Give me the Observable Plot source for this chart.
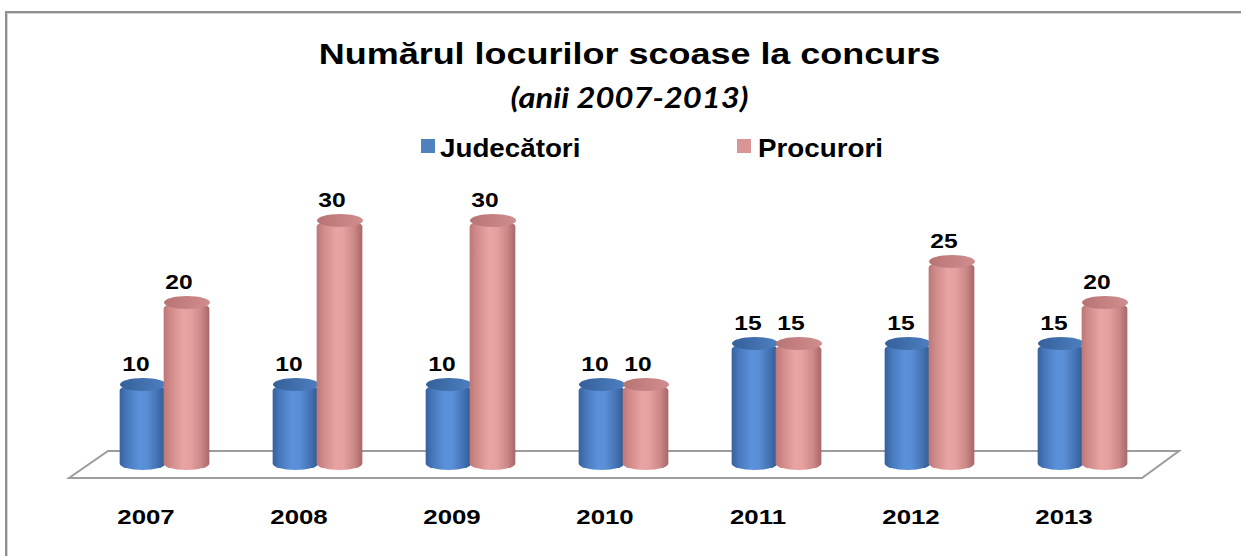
<!DOCTYPE html>
<html>
<head>
<meta charset="utf-8">
<script src="https://cdn.jsdelivr.net/npm/d3@7"></script>
<script src="https://cdn.jsdelivr.net/npm/@observablehq/plot@0.6"></script>
<style>
  html, body { margin: 0; padding: 0; background: #fff; }
  #wrap { position: relative; width: 1241px; height: 556px; overflow: hidden; background: #fff; }
  #border { position: absolute; left: 5px; top: 11px; width: 1400px; height: 800px;
            border-left: 2px solid #8e8e8e; border-top: 2px solid #8e8e8e;
            box-shadow: inset 1px 1px 0 #d4d4d4; }
  #chart { position: absolute; left: 0; top: 0; }
  .t { position: absolute; white-space: nowrap; line-height: 1; color: #000; }
  #title { font: bold 29px "Liberation Sans", Arial, sans-serif; left: 0; width: 1241px; text-align: center;
           transform: translateX(9px) scaleX(1.24); transform-origin: 620.5px 0; top: 38px; }
  #subtitle { font: italic bold 28px Lato, sans-serif; left: 0; width: 1241px; text-align: center;
              transform: translateX(9px) scaleX(1.17); transform-origin: 620.5px 0; top: 80px; }
  .sw { position: absolute; width: 14px; height: 14px; top: 139px; }
  .lg { font: bold 25px "Liberation Sans", Arial, sans-serif; top: 134px; transform: scaleX(1.11); transform-origin: 0 0; }
</style>
</head>
<body>
<div id="wrap">
  <div id="border"></div>
  <div id="chart"></div>
  <div id="title" class="t"></div>
  <div id="subtitle" class="t"></div>
  <div id="sw0" class="sw" style="left:421px"></div>
  <div id="lg0" class="t lg" style="left:440px"></div>
  <div id="sw1" class="sw" style="left:737px"></div>
  <div id="lg1" class="t lg" style="left:758px"></div>
</div>
<script>
// ---- data ----
const titleText = "Numărul locurilor scoase la concurs";
const subtitleText = "(anii 2007-2013)";
const years = ["2007", "2008", "2009", "2010", "2011", "2012", "2013"];
const seriesNames = ["Judecători", "Procurori"];
const judecatori = [10, 10, 10, 10, 15, 15, 15];
const procurori = [20, 30, 30, 10, 15, 25, 20];
const seriesColors = ["#4f81bd", "#d99594"];

const blueRows = years.map((y, i) => ({year: y, value: judecatori[i]}));
const pinkRows = years.map((y, i) => ({year: y, value: procurori[i]}));

// ---- html text ----
document.getElementById("title").textContent = titleText;
document.getElementById("subtitle").textContent = subtitleText;
document.getElementById("lg0").textContent = seriesNames[0];
document.getElementById("lg1").textContent = seriesNames[1];
document.getElementById("sw0").style.background = seriesColors[0];
document.getElementById("sw1").style.background = seriesColors[1];

// elliptical cap symbol
const capSymbol = {
  draw(ctx) {
    const a = 23, b = 6.5, k = 0.5523;
    ctx.moveTo(-a, 0);
    ctx.bezierCurveTo(-a, -k * b, -k * a, -b, 0, -b);
    ctx.bezierCurveTo(k * a, -b, a, -k * b, a, 0);
    ctx.bezierCurveTo(a, k * b, k * a, b, 0, b);
    ctx.bezierCurveTo(-k * a, b, -a, k * b, -a, 0);
    ctx.closePath();
  }
};

// floor drawn from the scales
function floor(index, scales, values, dimensions) {
  const x = scales.x, y = scales.y;
  let bw = (typeof x.bandwidth === "function") ? x.bandwidth() : 0;
  const x0 = x(years[0]);
  const x1 = x(years[years.length - 1]) + bw;
  const y0 = y(0);
  const p = d3.path();
  p.moveTo(x0 - 19, y0 + 12);
  p.lineTo(x1 - 17, y0 + 12);
  p.lineTo(x1 + 20, y0 - 15);
  p.lineTo(x0 + 20, y0 - 15);
  p.closePath();
  return d3.create("svg:path").attr("d", p.toString())
    .attr("fill", "#ffffff").attr("stroke", "#9c9c9c").attr("stroke-width", 2).node();
}

const half = 153.3 / 2;
const plot = Plot.plot({
  width: 1241,
  height: 556,
  marginTop: 220,
  marginBottom: 90,
  marginLeft: 0,
  marginRight: 0,
  style: {background: "transparent", overflow: "visible"},
  x: {type: "band", domain: years, range: [164 - half, 164 + 6 * 153.3 + half], padding: 0, axis: null},
  y: {domain: [0, 30], axis: null},
  marks: [
    floor,
    Plot.barY(blueRows, {x: "year", y1: 0, y2: "value", fill: "url(#gBlue)", rx: 23, ry: 6.5,
      insetLeft: half - 45, insetRight: half - 1, insetBottom: -4}),
    Plot.dot(blueRows, {x: "year", y: "value", dx: -22, symbol: capSymbol, fill: "url(#gBlueCap)", stroke: "none"}),
    Plot.barY(pinkRows, {x: "year", y1: 0, y2: "value", fill: "url(#gPink)", rx: 23, ry: 6.5,
      insetLeft: half - 1, insetRight: half - 45, insetBottom: -4}),
    Plot.dot(pinkRows, {x: "year", y: "value", dx: 22, symbol: capSymbol, fill: "url(#gPinkCap)", stroke: "none"}),
    Plot.text(blueRows, {x: "year", y: "value", text: d => String(d.value), dx: -29, dy: -14, lineAnchor: "bottom",
      fontSize: 20, fontWeight: "bold", fill: "#000", fontFamily: "Liberation Sans, Arial, sans-serif"}),
    Plot.text(pinkRows, {x: "year", y: "value", text: d => String(d.value), dx: 14, dy: -14, lineAnchor: "bottom",
      fontSize: 20, fontWeight: "bold", fill: "#000", fontFamily: "Liberation Sans, Arial, sans-serif"}),
    Plot.text(years, {x: d => d, text: d => d, frameAnchor: "bottom", dx: -19, dy: 57, lineAnchor: "bottom",
      fontSize: 21, fontWeight: "bold", fill: "#000", fontFamily: "Liberation Sans, Arial, sans-serif"})
  ]
});

// gradients
const svg = d3.select(plot);
const defs = svg.insert("defs", ":first-child");
function grad(id, stops) {
  const g = defs.append("linearGradient").attr("id", id).attr("x1", "0").attr("x2", "1").attr("y1", "0").attr("y2", "0");
  stops.forEach(([o, c]) => g.append("stop").attr("offset", o).attr("stop-color", c));
}
grad("gBlue", [[0, "#36629e"], [0.15, "#4677bb"], [0.42, "#5b91da"], [0.58, "#5a8fd7"], [0.82, "#4473b4"], [1, "#31598f"]]);
grad("gPink", [[0, "#bd7777"], [0.15, "#d08a8a"], [0.42, "#e8a3a3"], [0.58, "#e6a0a0"], [0.82, "#cc8787"], [1, "#a96767"]]);
grad("gBlueCap", [[0, "#35609a"], [0.5, "#4170ae"], [1, "#4d7fc0"]]);
grad("gPinkCap", [[0, "#b77474"], [0.5, "#c58181"], [1, "#d08d8d"]]);

// horizontally stretched text (as in the reference)
svg.selectAll("text").each(function() {
  const t = this.getAttribute("transform");
  if (t) this.setAttribute("transform", t + " scale(1.23,1)");
});

document.getElementById("chart").appendChild(plot);
</script>
</body>
</html>
